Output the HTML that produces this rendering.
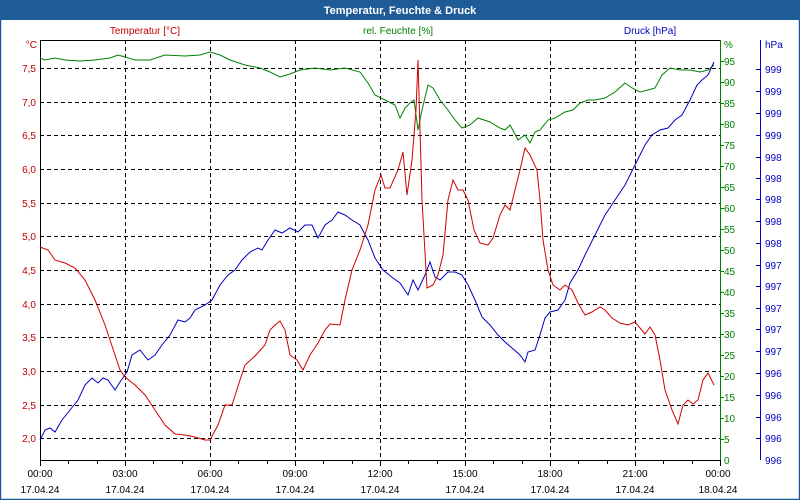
<!DOCTYPE html>
<html><head><meta charset="utf-8"><style>
html,body{margin:0;padding:0;background:#fff}
svg{display:block;font-family:"Liberation Sans",sans-serif}
</style></head><body>
<svg width="800" height="500" viewBox="0 0 800 500" xmlns="http://www.w3.org/2000/svg">
<rect x="0" y="0" width="800" height="500" fill="#fff"/>
<rect x="0" y="0" width="800" height="20" fill="#1f5b96"/>
<rect x="0.5" y="0.5" width="799" height="499" fill="none" stroke="#1f5b96" stroke-width="1.5"/>
<text x="400" y="14" text-anchor="middle" fill="#fff" font-size="11" font-weight="bold">Temperatur, Feuchte &amp; Druck</text>
<text x="145" y="34" text-anchor="middle" fill="#c00000" font-size="10">Temperatur [°C]</text>
<text x="398" y="34" text-anchor="middle" fill="#008000" font-size="10">rel. Feuchte [%]</text>
<text x="650" y="34" text-anchor="middle" fill="#0000c0" font-size="10">Druck [hPa]</text>
<g stroke="#000" stroke-dasharray="4,3" stroke-width="1">
<line x1="40" x2="720" y1="68.5" y2="68.5"/><line x1="40" x2="720" y1="102.5" y2="102.5"/><line x1="40" x2="720" y1="135.5" y2="135.5"/><line x1="40" x2="720" y1="169.5" y2="169.5"/><line x1="40" x2="720" y1="203.5" y2="203.5"/><line x1="40" x2="720" y1="236.5" y2="236.5"/><line x1="40" x2="720" y1="270.5" y2="270.5"/><line x1="40" x2="720" y1="304.5" y2="304.5"/><line x1="40" x2="720" y1="337.5" y2="337.5"/><line x1="40" x2="720" y1="371.5" y2="371.5"/><line x1="40" x2="720" y1="405.5" y2="405.5"/><line x1="40" x2="720" y1="438.5" y2="438.5"/>
<line x1="125.5" x2="125.5" y1="40" y2="460"/><line x1="210.5" x2="210.5" y1="40" y2="460"/><line x1="295.5" x2="295.5" y1="40" y2="460"/><line x1="380.5" x2="380.5" y1="40" y2="460"/><line x1="465.5" x2="465.5" y1="40" y2="460"/><line x1="550.5" x2="550.5" y1="40" y2="460"/><line x1="635.5" x2="635.5" y1="40" y2="460"/>
</g>
<line x1="40" x2="720" y1="40.5" y2="40.5" stroke="#000"/>
<line x1="40.5" x2="40.5" y1="40" y2="461" stroke="#000"/>
<line x1="40" x2="720" y1="460.5" y2="460.5" stroke="#000"/>
<g stroke="#000">
<line x1="40.5" x2="40.5" y1="460" y2="466"/><line x1="68.5" x2="68.5" y1="460" y2="464"/><line x1="97.5" x2="97.5" y1="460" y2="464"/><line x1="125.5" x2="125.5" y1="460" y2="466"/><line x1="153.5" x2="153.5" y1="460" y2="464"/><line x1="182.5" x2="182.5" y1="460" y2="464"/><line x1="210.5" x2="210.5" y1="460" y2="466"/><line x1="238.5" x2="238.5" y1="460" y2="464"/><line x1="267.5" x2="267.5" y1="460" y2="464"/><line x1="295.5" x2="295.5" y1="460" y2="466"/><line x1="323.5" x2="323.5" y1="460" y2="464"/><line x1="352.5" x2="352.5" y1="460" y2="464"/><line x1="380.5" x2="380.5" y1="460" y2="466"/><line x1="408.5" x2="408.5" y1="460" y2="464"/><line x1="437.5" x2="437.5" y1="460" y2="464"/><line x1="465.5" x2="465.5" y1="460" y2="466"/><line x1="493.5" x2="493.5" y1="460" y2="464"/><line x1="522.5" x2="522.5" y1="460" y2="464"/><line x1="550.5" x2="550.5" y1="460" y2="466"/><line x1="578.5" x2="578.5" y1="460" y2="464"/><line x1="607.5" x2="607.5" y1="460" y2="464"/><line x1="635.5" x2="635.5" y1="460" y2="466"/><line x1="663.5" x2="663.5" y1="460" y2="464"/><line x1="692.5" x2="692.5" y1="460" y2="464"/><line x1="720.5" x2="720.5" y1="460" y2="466"/>
</g>
<g font-size="10" fill="#000" text-anchor="middle">
<text x="40" y="477">00:00</text><text x="40" y="493">17.04.24</text>
<text x="125" y="477">03:00</text><text x="125" y="493">17.04.24</text>
<text x="210" y="477">06:00</text><text x="210" y="493">17.04.24</text>
<text x="295" y="477">09:00</text><text x="295" y="493">17.04.24</text>
<text x="380" y="477">12:00</text><text x="380" y="493">17.04.24</text>
<text x="465" y="477">15:00</text><text x="465" y="493">17.04.24</text>
<text x="550" y="477">18:00</text><text x="550" y="493">17.04.24</text>
<text x="635" y="477">21:00</text><text x="635" y="493">17.04.24</text>
<text x="718" y="477">00:00</text><text x="718" y="493">18.04.24</text>
</g>
<g font-size="10" fill="#c00000" text-anchor="end">
<text x="37" y="48">°C</text>
<text x="36" y="72">7,5</text><text x="36" y="106">7,0</text><text x="36" y="139">6,5</text><text x="36" y="173">6,0</text><text x="36" y="207">5,5</text><text x="36" y="240">5,0</text><text x="36" y="274">4,5</text><text x="36" y="308">4,0</text><text x="36" y="341">3,5</text><text x="36" y="375">3,0</text><text x="36" y="409">2,5</text><text x="36" y="442">2,0</text>
</g>
<line x1="720.5" x2="720.5" y1="40" y2="460" stroke="#008000"/>
<g stroke="#008000">
<line x1="720" x2="724" y1="61.5" y2="61.5"/><line x1="720" x2="724" y1="82.5" y2="82.5"/><line x1="720" x2="724" y1="103.5" y2="103.5"/><line x1="720" x2="724" y1="124.5" y2="124.5"/><line x1="720" x2="724" y1="145.5" y2="145.5"/><line x1="720" x2="724" y1="166.5" y2="166.5"/><line x1="720" x2="724" y1="187.5" y2="187.5"/><line x1="720" x2="724" y1="208.5" y2="208.5"/><line x1="720" x2="724" y1="229.5" y2="229.5"/><line x1="720" x2="724" y1="250.5" y2="250.5"/><line x1="720" x2="724" y1="271.5" y2="271.5"/><line x1="720" x2="724" y1="292.5" y2="292.5"/><line x1="720" x2="724" y1="313.5" y2="313.5"/><line x1="720" x2="724" y1="334.5" y2="334.5"/><line x1="720" x2="724" y1="355.5" y2="355.5"/><line x1="720" x2="724" y1="376.5" y2="376.5"/><line x1="720" x2="724" y1="397.5" y2="397.5"/><line x1="720" x2="724" y1="418.5" y2="418.5"/><line x1="720" x2="724" y1="439.5" y2="439.5"/>
</g>
<g font-size="10" fill="#008000">
<text x="724" y="48">%</text>
<text x="724" y="65">95</text><text x="724" y="86">90</text><text x="724" y="107">85</text><text x="724" y="128">80</text><text x="724" y="149">75</text><text x="724" y="170">70</text><text x="724" y="191">65</text><text x="724" y="212">60</text><text x="724" y="233">55</text><text x="724" y="254">50</text><text x="724" y="275">45</text><text x="724" y="296">40</text><text x="724" y="317">35</text><text x="724" y="338">30</text><text x="724" y="359">25</text><text x="724" y="380">20</text><text x="724" y="401">15</text><text x="724" y="422">10</text><text x="724" y="443">5</text><text x="724" y="464">0</text>
</g>
<line x1="760.5" x2="760.5" y1="40" y2="460" stroke="#0000c0"/>
<g font-size="10" fill="#0000c0">
<text x="765" y="48">hPa</text>
<text x="765" y="73">999</text><text x="765" y="95">999</text><text x="765" y="117">999</text><text x="765" y="139">999</text><text x="765" y="161">998</text><text x="765" y="182">998</text><text x="765" y="203">998</text><text x="765" y="225">998</text><text x="765" y="247">998</text><text x="765" y="269">997</text><text x="765" y="290">997</text><text x="765" y="312">997</text><text x="765" y="333">997</text><text x="765" y="355">997</text><text x="765" y="377">996</text><text x="765" y="399">996</text><text x="765" y="421">996</text><text x="765" y="442">996</text><text x="765" y="464">996</text>
</g>
<g stroke="#0000c0">
<line x1="760" x2="756" y1="69.5" y2="69.5"/><line x1="760" x2="756" y1="91.5" y2="91.5"/><line x1="760" x2="756" y1="113.5" y2="113.5"/><line x1="760" x2="756" y1="135.5" y2="135.5"/><line x1="760" x2="756" y1="157.5" y2="157.5"/><line x1="760" x2="756" y1="178.5" y2="178.5"/><line x1="760" x2="756" y1="199.5" y2="199.5"/><line x1="760" x2="756" y1="221.5" y2="221.5"/><line x1="760" x2="756" y1="243.5" y2="243.5"/><line x1="760" x2="756" y1="265.5" y2="265.5"/><line x1="760" x2="756" y1="286.5" y2="286.5"/><line x1="760" x2="756" y1="308.5" y2="308.5"/><line x1="760" x2="756" y1="329.5" y2="329.5"/><line x1="760" x2="756" y1="351.5" y2="351.5"/><line x1="760" x2="756" y1="373.5" y2="373.5"/><line x1="760" x2="756" y1="395.5" y2="395.5"/><line x1="760" x2="756" y1="417.5" y2="417.5"/><line x1="760" x2="756" y1="438.5" y2="438.5"/>
</g>
<polyline fill="none" stroke="#008000" stroke-width="1" points="40,58 45,60 55,58 65,60 80,61 95,60 110,58 118,55 125,57 135,60 150,60 165,55 185,56 200,55 210,52 220,55 230,60 245,65 260,68 270,72 280,77 290,74 300,70 315,68 330,70 345,68 360,72 368,83 375,95 385,100 395,105 400,118 405,108 410,103 414,100 418,130 422,110 428,85 433,88 440,100 448,110 455,120 462,128 470,125 478,118 490,122 500,128 505,130 510,125 518,140 525,135 530,143 535,132 540,130 548,120 555,118 565,112 573,110 580,103 588,100 595,100 605,98 615,92 625,83 632,88 640,92 648,90 655,88 662,75 670,68 680,70 690,70 700,72 708,70 714,65"/>
<polyline fill="none" stroke="#0000c0" stroke-width="1" points="40,440 45,430 50,428 55,432 62,420 70,410 78,400 85,385 92,378 98,383 103,378 108,380 115,390 120,382 127,372 132,355 140,350 148,360 155,355 162,345 170,335 178,320 185,322 190,318 195,310 205,305 212,300 220,285 228,275 235,270 242,260 250,252 258,248 262,250 268,240 275,230 282,233 290,228 298,232 305,225 312,225 318,238 325,225 332,220 338,212 345,215 352,220 360,225 368,240 375,258 383,270 393,278 400,283 408,295 413,280 418,290 425,275 430,262 435,277 440,280 448,272 455,272 462,275 468,285 475,300 482,317 490,325 498,335 505,342 512,348 520,355 525,362 528,352 535,350 540,335 545,318 550,312 558,310 565,300 570,283 578,270 585,255 595,235 605,215 615,200 625,185 635,165 645,145 652,135 660,130 668,128 675,120 682,115 690,100 697,85 702,80 708,75 714,62"/>
<polyline fill="none" stroke="#d00000" stroke-width="1" points="40,247 48,250 55,260 65,263 75,268 85,280 95,300 105,325 115,355 120,370 125,377 135,385 145,395 155,410 165,425 175,434 185,435 195,437 205,440 210,440 218,425 225,405 232,405 240,380 245,365 255,356 265,345 270,330 275,325 280,321 285,330 290,355 297,360 303,370 310,355 318,343 325,330 330,324 340,325 345,300 352,270 360,250 368,225 375,190 381,175 385,188 390,188 398,170 403,152 407,195 412,160 416,110 418,60 422,200 427,288 433,285 438,275 443,255 448,200 453,180 458,190 463,190 468,200 474,230 480,243 488,245 493,238 500,215 505,205 510,210 515,190 520,170 525,148 530,155 537,170 540,200 543,240 548,270 553,285 560,290 565,285 572,290 578,303 585,315 592,312 600,307 605,310 612,318 620,323 628,325 635,322 640,328 645,334 650,327 655,335 660,360 665,390 672,410 678,424 683,405 688,400 693,404 698,400 703,380 708,373 714,385"/>
</svg>
</body></html>
